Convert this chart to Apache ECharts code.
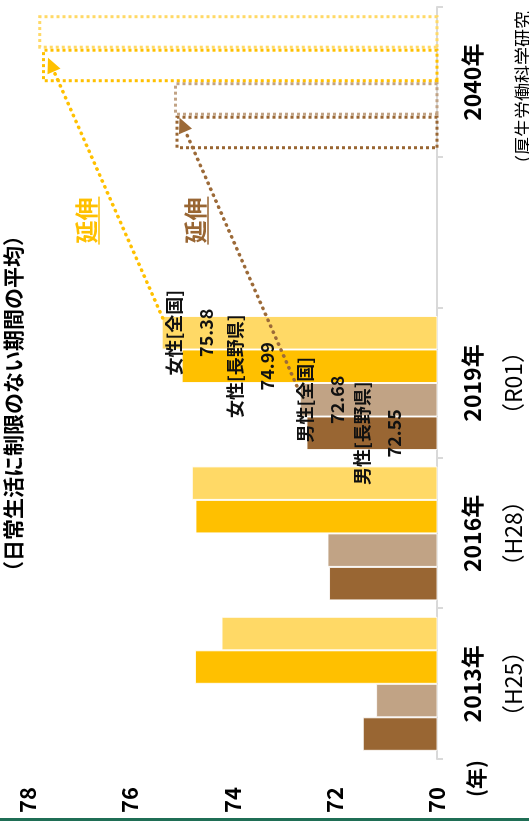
<!DOCTYPE html>
<html>
<head>
<meta charset="utf-8">
<script src="https://cdn.jsdelivr.net/npm/echarts@6/dist/echarts.min.js"></script>
<style>
  html, body { margin: 0; padding: 0; background: #fff; overflow: hidden; width: 529px; height: 821px; }
  /* the chart is laid out landscape and turned a quarter turn counter-clockwise */
  #stage { position: absolute; left: 0; top: 0; width: 821px; height: 529px;
           transform-origin: 0 0; transform: translate(0, 821px) rotate(-90deg); }
  #chart { width: 821px; height: 529px; }
  #rule { position: absolute; left: 0; top: 818px; width: 529px; height: 3px; background: #1f6e55; }
</style>
</head>
<body>
<div id="stage"><div id="chart"></div></div>
<div id="rule"></div>
<script>
// survey years (the empty slot separates the 2040 goal)
const categories = ['2013年', '2016年', '2019年', '', '2040年'];
const eraNames = ['（H25）', '（H28）', '（R01）', '', ''];

// healthy life expectancy, years (series order = left to right in each group)
const seriesNames = ['男性[長野県]', '男性[全国]', '女性[長野県]', '女性[全国]'];
const maleNagano     = [71.45, 72.11, 72.55, null, null];
const maleNational   = [71.19, 72.14, 72.68, null, null];
const femaleNagano   = [74.73, 74.72, 74.99, null, null];
const femaleNational = [74.21, 74.79, 75.38, null, null];

// 2040 goal: three more years than 2016, same series order
const target2040 = [75.11, 75.14, 77.72, 77.79];

const valueTicks = [70, 72, 74, 76, 78];

const FONT = '"Noto Sans CJK JP", "Noto Sans", sans-serif';
const colors = ['#996633', '#C1A385', '#FFC000', '#FFD966'];
const measured = [maleNagano, maleNational, femaleNagano, femaleNational];
const GOAL_IDX = categories.length - 1;
const LABEL_IDX = 2;                       // the 2019 group carries name/value labels
const labelShift = [39.5, -11, 37.8, -3.7]; // staggered so neighbouring labels don't collide

const chart = echarts.init(document.getElementById('chart'), null, { renderer: 'canvas' });

const series = measured.map((vals, i) => ({
  type: 'bar',
  name: seriesNames[i],
  barGap: '0%',
  barCategoryGap: '10.9%',
  itemStyle: { color: colors[i], borderColor: 'rgba(255,255,255,0.85)', borderWidth: 1 },
  label: {
    show: false,
    position: 'insideTop',
    distance: 0,
    offset: [0, labelShift[i]],
    fontFamily: FONT,
    formatter: p => `{n|${p.seriesName}}\n{v|${Number(p.value).toFixed(2)}}`,
    rich: {
      n: { fontFamily: FONT, fontSize: 18, lineHeight: 32, color: '#111', fontWeight: 'bold' },
      v: { fontFamily: FONT, fontSize: 18, lineHeight: 32, color: '#111', fontWeight: 'bold' }
    }
  },
  data: categories.map((c, j) => {
    if (j === GOAL_IDX) {
      return {
        value: target2040[i],
        itemStyle: { color: 'rgba(0,0,0,0)', borderColor: colors[i], borderWidth: 3, borderType: 'dotted' }
      };
    }
    const v = vals[j];
    if (v == null) return '-';
    if (j === LABEL_IDX) return { value: v, label: { show: true } };
    return v;
  })
}));

const option = {
  animation: false,
  backgroundColor: '#fff',
  textStyle: { fontFamily: FONT },
  title: {
    text: '（日常生活に制限のない期間の平均）',
    left: 239, top: 3, padding: 0,
    textStyle: { fontFamily: FONT, fontSize: 21, fontWeight: 'bold', color: '#000' }
  },
  grid: { left: 62, right: 7, top: 27.6, bottom: 92 },
  xAxis: {
    type: 'category',
    data: categories,
    axisLine: { lineStyle: { color: '#D9D9D9', width: 2 } },
    axisTick: { show: true, length: 6, interval: 0, lineStyle: { color: '#D9D9D9', width: 2 } },
    axisLabel: {
      interval: 0,
      margin: 15,
      formatter: (v, i) => eraNames[i] ? `{y|${v}}\n{e|${eraNames[i]}}` : `{y|${v}}`,
      rich: {
        y: { fontFamily: FONT, fontSize: 23, fontWeight: 'bold', lineHeight: 41, color: '#000' },
        e: { fontFamily: FONT, fontSize: 23, lineHeight: 41, color: '#000' }
      }
    }
  },
  yAxis: {
    type: 'value',
    min: valueTicks[0],
    max: valueTicks[valueTicks.length - 1],
    interval: valueTicks[1] - valueTicks[0],
    splitLine: { show: false },
    axisLine: { show: false },
    axisTick: { show: false },
    axisLabel: { fontFamily: FONT, fontSize: 22, fontWeight: 'bold', color: '#000', margin: 28, padding: [0, 0, 12, 0] }
  },
  series: series
};

chart.setOption(option);

// ---- annotations: extension arrows, "延伸" captions, unit and source notes ----
function barBox(si, di) {
  const l = chart.getModel().getSeriesByIndex(si).getData().getItemLayout(di);
  return {
    left: Math.min(l.x, l.x + l.width), right: Math.max(l.x, l.x + l.width),
    top: Math.min(l.y, l.y + l.height), bottom: Math.max(l.y, l.y + l.height)
  };
}

function arrow(from, to, color) {
  const dx = to[0] - from[0], dy = to[1] - from[1];
  const len = Math.hypot(dx, dy);
  const ux = dx / len, uy = dy / len;
  const L = 15, W = 7;
  const bx = to[0] - ux * L, by = to[1] - uy * L;
  return [
    { type: 'line', z: 20, silent: true,
      shape: { x1: from[0], y1: from[1], x2: bx, y2: by },
      style: { stroke: color, lineWidth: 3.5, lineDash: [0.5, 6], lineCap: 'round' } },
    { type: 'polygon', z: 20, silent: true,
      shape: { points: [to, [bx - uy * W, by + ux * W], [bx + uy * W, by - ux * W]] },
      style: { fill: color } }
  ];
}

const femStart = barBox(3, LABEL_IDX);
const femGoal = barBox(2, GOAL_IDX);
const maleStart = barBox(1, LABEL_IDX);
const maleGoal = barBox(0, GOAL_IDX);

const gapX = chart.convertToPixel({ xAxisIndex: 0 }, 3) + 12;

function caption(text, color, cy) {
  return [
    { type: 'text', z: 20, silent: true,
      style: { text: text, x: gapX, y: cy, align: 'center', verticalAlign: 'middle',
               font: 'bold 23px ' + FONT, fill: color } },
    { type: 'line', z: 20, silent: true,
      shape: { x1: gapX - 24, y1: cy + 13, x2: gapX + 24, y2: cy + 13 },
      style: { stroke: color, lineWidth: 1.5 } }
  ];
}

chart.setOption({
  graphic: [].concat(
    arrow([femStart.right - 2, femStart.top + 1], [femGoal.right - 9, femGoal.top + 6], '#FFC000'),
    arrow([maleStart.right - 3, maleStart.top - 3], [maleGoal.right - 2, maleGoal.top + 4], '#9C6A38'),
    caption('延伸', '#FFC000', 86),
    caption('延伸', '#996633', 195),
    [
      { type: 'text', z: 20, silent: true,
        style: { text: '(年)', x: 24, y: 466, font: 'bold 21px ' + FONT, fill: '#000' } },
      { type: 'text', z: 20, silent: true,
        style: { text: '（厚生労働科学研究', x: 648, y: 514, font: '18px ' + FONT, fill: '#000' } }
    ]
  )
});
</script>
</body>
</html>
